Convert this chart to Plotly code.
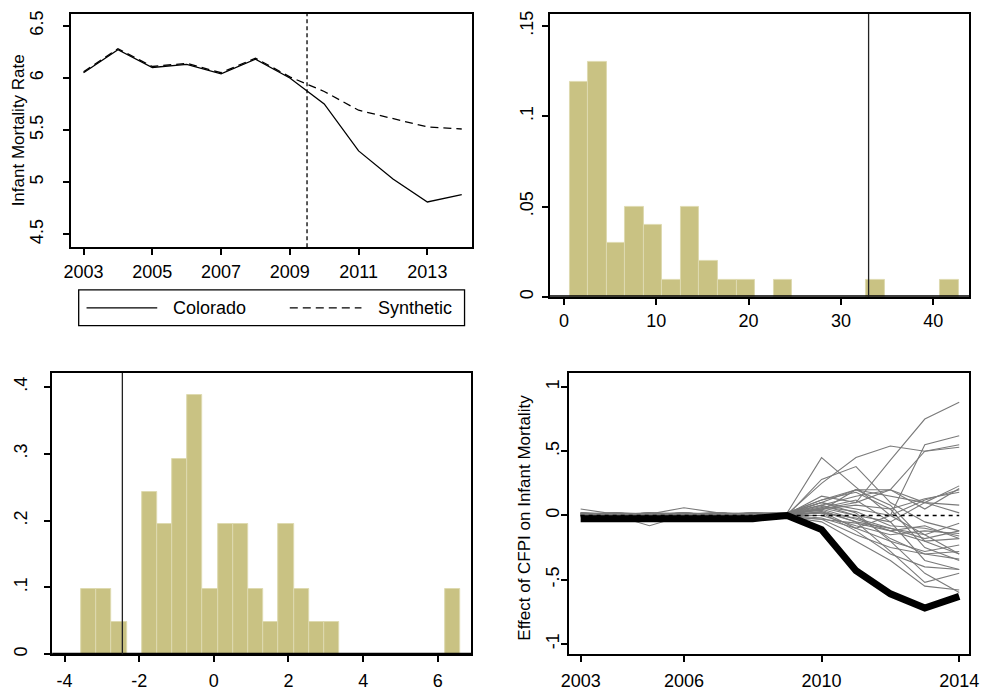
import plotly.graph_objects as go

# ---------------- data ----------------
years = [2003, 2004, 2005, 2006, 2007, 2008, 2009, 2010, 2011, 2012, 2013, 2014]
colorado = [6.05, 6.27, 6.10, 6.13, 6.04, 6.18, 6.00, 5.75, 5.30, 5.03, 4.81, 4.88]
synthetic = [6.06, 6.28, 6.11, 6.14, 6.05, 6.19, 6.01, 5.87, 5.69, 5.61, 5.53, 5.51]
treatment_year = 2009.5

# histogram 1 (top right)
h1_start = 0.64
h1_width = 2.005
h1_heights = [0.119, 0.130, 0.030, 0.050, 0.040, 0.0095, 0.050, 0.020, 0.0095, 0.0095,
              0.0, 0.0095, 0.0, 0.0, 0.0, 0.0, 0.0095, 0.0, 0.0, 0.0, 0.0095]
h1_colorado = 33.0

# histogram 2 (bottom left)
h2_start = -3.553
h2_width = 0.4066
h2_heights = [0.097, 0.097, 0.048, 0.0, 0.243, 0.195, 0.292, 0.388, 0.097, 0.195,
              0.195, 0.097, 0.048, 0.195, 0.097, 0.048, 0.048, 0.0, 0.0, 0.0,
              0.0, 0.0, 0.0, 0.0, 0.097]
h2_colorado = -2.45

# gap plot (bottom right)
colorado_gap = [-0.025, -0.025, -0.025, -0.025, -0.025, -0.025, 0.0, -0.11, -0.43, -0.61, -0.72, -0.63]
placebo_gaps = [
    [0.01, 0.00, 0.02, 0.01, -0.01, 0.00, 0.01, 0.05, 0.10, 0.43, 0.75, 0.88],
    [0.00, 0.02, 0.00, 0.01, 0.02, 0.00, 0.02, 0.10, 0.05, 0.00, 0.55, 0.62],
    [0.02, 0.01, -0.01, 0.00, 0.01, 0.02, 0.01, 0.25, 0.45, 0.54, 0.50, 0.55],
    [-0.01, 0.01, 0.00, 0.02, 0.00, 0.01, 0.02, 0.45, 0.22, 0.00, -0.15, -0.30],
    [0.00, -0.01, 0.01, 0.00, 0.02, 0.00, 0.00, 0.28, 0.38, 0.10, -0.05, -0.12],
    [0.01, 0.02, 0.00, -0.01, 0.00, 0.01, 0.01, 0.10, 0.20, 0.20, 0.50, 0.53],
    [0.05, 0.01, 0.00, 0.00, 0.01, 0.00, 0.02, 0.12, 0.20, 0.15, 0.10, 0.23],
    [0.00, 0.00, 0.01, 0.06, 0.02, 0.00, 0.01, 0.08, 0.15, 0.20, 0.05, 0.21],
    [0.01, 0.00, -0.08, 0.00, 0.00, 0.01, 0.00, 0.05, 0.08, 0.05, 0.13, 0.18],
    [0.00, 0.02, 0.01, 0.00, 0.00, 0.02, 0.01, 0.15, 0.10, 0.20, 0.10, 0.08],
    [-0.01, 0.00, 0.00, 0.01, 0.01, -0.01, 0.00, 0.06, 0.12, -0.05, 0.10, 0.02],
    [0.00, 0.01, 0.00, 0.00, -0.01, 0.00, 0.00, 0.03, -0.05, -0.10, -0.15, -0.06],
    [0.01, 0.00, 0.01, 0.02, 0.00, 0.01, 0.01, 0.02, -0.02, -0.10, -0.18, -0.12],
    [0.00, 0.01, 0.02, 0.00, 0.00, -0.02, 0.00, 0.00, -0.08, -0.15, -0.12, -0.14],
    [0.02, 0.00, 0.00, 0.01, 0.02, 0.00, 0.01, 0.05, -0.03, -0.12, -0.20, -0.18],
    [0.00, -0.01, 0.00, 0.00, 0.00, 0.01, 0.00, -0.02, -0.10, -0.20, -0.28, -0.23],
    [0.01, 0.01, 0.00, 0.02, 0.00, 0.00, 0.02, 0.08, 0.00, -0.18, -0.30, -0.28],
    [-0.01, 0.00, 0.01, 0.00, 0.01, 0.00, -0.01, -0.03, -0.15, -0.25, -0.30, -0.34],
    [0.00, 0.02, 0.00, 0.01, 0.00, 0.02, 0.00, 0.02, -0.12, -0.30, -0.40, -0.42],
    [0.02, 0.00, -0.01, 0.00, 0.02, 0.01, 0.01, 0.04, -0.05, -0.28, -0.52, -0.45],
    [0.00, 0.01, 0.00, -0.01, 0.00, 0.00, -0.01, -0.05, -0.20, -0.35, -0.55, -0.58],
    [0.01, 0.00, 0.02, 0.00, 0.01, 0.02, 0.02, 0.10, 0.02, -0.20, -0.45, -0.60],
    [0.00, 0.00, 0.00, 0.02, 0.00, 0.00, 0.01, 0.06, 0.00, -0.05, -0.35, -0.42],
    [0.01, 0.02, 0.01, 0.00, 0.00, 0.01, 0.02, 0.12, 0.18, 0.05, -0.25, -0.35],
    [0.00, 0.00, 0.02, 0.01, 0.02, 0.00, 0.00, 0.03, -0.10, 0.00, 0.12, 0.20],
    [0.02, 0.01, 0.00, 0.00, 0.00, 0.01, -0.01, -0.03, -0.06, -0.12, -0.08, -0.18],
    [0.00, 0.00, 0.01, 0.02, 0.01, 0.00, 0.01, 0.07, 0.03, -0.08, -0.10, -0.16],
    [0.01, 0.01, 0.00, 0.00, 0.02, 0.01, 0.02, 0.04, 0.20, 0.08, -0.20, -0.30],
]

# tick labels
p1_xticks = [2003, 2005, 2007, 2009, 2011, 2013]
p1_yticks = [4.5, 5, 5.5, 6, 6.5]
p1_ylabels = ["4.5", "5", "5.5", "6", "6.5"]
p2_xticks = [0, 10, 20, 30, 40]
p2_yticks = [0, 0.05, 0.1, 0.15]
p2_ylabels = ["0", ".05", ".1", ".15"]
p3_xticks = [-4, -2, 0, 2, 4, 6]
p3_yticks = [0, 0.1, 0.2, 0.3, 0.4]
p3_ylabels = ["0", ".1", ".2", ".3", ".4"]
p4_xticks = [2003, 2006, 2010, 2014]
p4_yticks = [-1, -0.5, 0, 0.5, 1]
p4_ylabels = ["-1", "-.5", "0", ".5", "1"]

# ---------------- layout helpers ----------------
W, H = 990, 694
FONT = "Liberation Sans, Arial, sans-serif"
BAR_FILL = "#C9C283"
BAR_LINE = "#DEDAB0"


def px(x):
    return x / W


def py(y):
    return 1 - y / H


fig = go.Figure()

# ---- panel 1: lines
fig.add_trace(go.Scatter(x=years, y=colorado, mode="lines", name="Colorado",
                         line=dict(color="black", width=1.3), xaxis="x", yaxis="y",
                         showlegend=False))
fig.add_trace(go.Scatter(x=years, y=synthetic, mode="lines", name="Synthetic",
                         line=dict(color="black", width=1.3, dash="8px,5px"),
                         xaxis="x", yaxis="y", showlegend=False))

# ---- panel 2: histogram
c1 = [(h1_start + (i + 0.5) * h1_width, h) for i, h in enumerate(h1_heights) if h > 0]
fig.add_trace(go.Bar(x=[c for c, _ in c1], y=[h for _, h in c1], width=h1_width,
                     marker=dict(color=BAR_FILL, line=dict(color=BAR_LINE, width=1)),
                     xaxis="x2", yaxis="y2", showlegend=False))

# ---- panel 3: histogram
c2 = [(h2_start + (i + 0.5) * h2_width, h) for i, h in enumerate(h2_heights) if h > 0]
fig.add_trace(go.Bar(x=[c for c, _ in c2], y=[h for _, h in c2], width=h2_width,
                     marker=dict(color=BAR_FILL, line=dict(color=BAR_LINE, width=1)),
                     xaxis="x3", yaxis="y3", showlegend=False))

# ---- panel 4: gaps
for g in placebo_gaps:
    fig.add_trace(go.Scatter(x=years, y=g, mode="lines",
                             line=dict(color="#7A7A7A", width=1.1),
                             xaxis="x4", yaxis="y4", showlegend=False, hoverinfo="skip"))
fig.add_trace(go.Scatter(x=[years[0], years[-1]], y=[0, 0], mode="lines",
                         line=dict(color="black", width=1.5, dash="4px,4px"),
                         xaxis="x4", yaxis="y4", showlegend=False))
fig.add_trace(go.Scatter(x=years, y=colorado_gap, mode="lines",
                         line=dict(color="black", width=7),
                         xaxis="x4", yaxis="y4", showlegend=False))


def xax(domain, rng, ticks, anchor, standoff=1):
    return dict(domain=domain, range=rng, tickmode="array", tickvals=ticks,
                ticktext=[str(t) for t in ticks], showgrid=False, zeroline=False,
                showline=True, linecolor="black", linewidth=1.5, mirror=True,
                ticks="outside", ticklen=6, tickwidth=1.5, tickcolor="black",
                tickfont=dict(family=FONT, size=18, color="black"),
                ticklabelstandoff=standoff, anchor=anchor)


def yax(domain, rng, ticks, labels, anchor, standoff=10):
    return dict(domain=domain, range=rng, tickmode="array", tickvals=ticks,
                ticktext=labels, showgrid=False, zeroline=False,
                showline=True, linecolor="black", linewidth=1.5, mirror=True,
                ticks="outside", ticklen=6, tickwidth=1.5, tickcolor="black",
                tickangle=-90,
                tickfont=dict(family=FONT, size=18, color="black"),
                ticklabelstandoff=standoff, anchor=anchor)


d1x, d1y = [px(64), px(473)], [py(246), py(11)]
d2x, d2y = [px(552), px(979)], [py(296), py(11)]
d3x, d3y = [px(45), px(472)], [py(656), py(372.7)]
d4x, d4y = [px(571), px(979)], [py(656), py(372.7)]

shapes = [
    # panel 1 treatment line
    dict(type="line", xref="x", yref="paper", x0=treatment_year, x1=treatment_year,
         y0=d1y[0], y1=d1y[1], line=dict(color="black", width=1.3, dash="4px,3px")),
    # panel 2 baseline and Colorado marker
    dict(type="line", xref="paper", yref="y2", x0=d2x[0], x1=d2x[1], y0=0, y1=0,
         line=dict(color="black", width=3)),
    dict(type="line", xref="x2", yref="paper", x0=h1_colorado, x1=h1_colorado,
         y0=d2y[0], y1=d2y[1], line=dict(color="#222222", width=1.3)),
    # panel 3 baseline and Colorado marker
    dict(type="line", xref="paper", yref="y3", x0=d3x[0], x1=d3x[1], y0=0, y1=0,
         line=dict(color="black", width=3)),
    dict(type="line", xref="x3", yref="paper", x0=h2_colorado, x1=h2_colorado,
         y0=d3y[0], y1=d3y[1], line=dict(color="#222222", width=1.3)),
    # legend box
    dict(type="rect", xref="paper", yref="paper", x0=px(72), x1=px(465), y0=py(325), y1=py(289),
         line=dict(color="black", width=1.3), fillcolor="white"),
    dict(type="line", xref="paper", yref="paper", x0=px(80), x1=px(152), y0=py(307), y1=py(307),
         line=dict(color="black", width=1.3)),
    dict(type="line", xref="paper", yref="paper", x0=px(287), x1=px(360), y0=py(307), y1=py(307),
         line=dict(color="black", width=1.3, dash="8px,5px")),
]

annotations = [
    dict(text="Colorado", xref="paper", yref="paper", x=px(205), y=py(307), showarrow=False,
         font=dict(family=FONT, size=18, color="black"), xanchor="center", yanchor="middle"),
    dict(text="Synthetic", xref="paper", yref="paper", x=px(415), y=py(307), showarrow=False,
         font=dict(family=FONT, size=18, color="black"), xanchor="center", yanchor="middle"),
    dict(text="Infant Mortality Rate", xref="paper", yref="paper", x=px(11), y=py(128.5),
         textangle=-90, showarrow=False, font=dict(family=FONT, size=17, color="black"),
         xanchor="center", yanchor="middle"),
    dict(text="Effect of CFPI on Infant Mortality", xref="paper", yref="paper", x=px(526),
         y=py(518), textangle=-90, showarrow=False,
         font=dict(family=FONT, size=17, color="black"), xanchor="center", yanchor="middle"),
]

fig.update_layout(
    width=W, height=H, margin=dict(l=0, r=0, t=0, b=0),
    paper_bgcolor="white", plot_bgcolor="white", bargap=0,
    xaxis=xax(d1x, [2002.63, 2014.31], p1_xticks, "y"),
    yaxis=yax(d1y, [4.376, 6.614], p1_yticks, p1_ylabels, "x", standoff=13),
    xaxis2=xax(d2x, [-1.52, 43.9], p2_xticks, "y2"),
    yaxis2=yax(d2y, [0, 0.1566], p2_yticks, p2_ylabels, "x2", standoff=2),
    xaxis3=xax(d3x, [-4.33, 6.90], p3_xticks, "y3", standoff=3),
    yaxis3=yax(d3y, [0, 0.4208], p3_yticks, p3_ylabels, "x3", standoff=10),
    xaxis4=xax(d4x, [2002.65, 2014.29], p4_xticks, "y4", standoff=3),
    yaxis4=yax(d4y, [-1.080, 1.108], p4_yticks, p4_ylabels, "x4", standoff=-5),
    shapes=shapes, annotations=annotations, showlegend=False,
)

fig.write_html("out.html", config={"displayModeBar": False},
               post_script="document.body.style.margin='0';document.body.style.overflow='hidden';")
